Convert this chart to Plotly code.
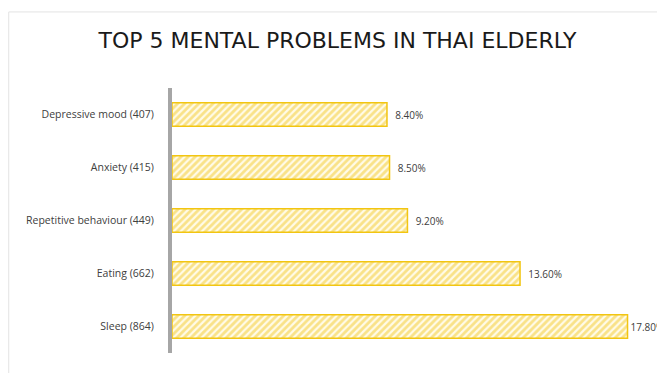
import plotly.graph_objects as go

categories = ["Depressive mood (407)", "Anxiety (415)", "Repetitive behaviour (449)", "Eating (662)", "Sleep (864)"]
values = [8.4, 8.5, 9.2, 13.6, 17.8]
value_labels = ["8.40%", "8.50%", "9.20%", "13.60%", "17.80%"]

fig = go.Figure()
fig.add_trace(go.Bar(
    y=categories, x=values, orientation="h",
    text=value_labels,
    texttemplate=["  %{text}"] * (len(values) - 1) + ["%{text}"],
    textposition="outside",
    textfont=dict(family="Open Sans, DejaVu Sans, sans-serif", size=10, color="#404040"),
    cliponaxis=False,
    width=0.44,
    marker=dict(
        color="#fff8d8",
        line=dict(color="#f2c511", width=1.5),
        pattern=dict(shape="/", fgcolor="#f4c928", bgcolor="#fffbe8", size=5, solidity=0.55),
    ),
))

fig.update_layout(
    width=665, height=373,
    paper_bgcolor="white", plot_bgcolor="white",
    margin=dict(l=164, r=25, t=80, b=28),
    showlegend=False,
    title=dict(text="TOP 5 MENTAL PROBLEMS IN THAI ELDERLY", xref="container", x=0.4955, xanchor="center",
               yref="container", y=0.914, yanchor="middle",
               font=dict(family="DejaVu Sans, sans-serif", size=22, color="#1a1a1a")),
    xaxis=dict(range=[0, 18.6], visible=False),
    yaxis=dict(autorange="reversed", showline=True, linecolor="#a6a6a6", linewidth=4,
               ticks="", showgrid=False, ticklabelstandoff=12,
               tickfont=dict(family="Open Sans, DejaVu Sans, sans-serif", size=10.5, color="#404040")),
    shapes=[dict(type="rect", xref="paper", yref="paper", x0=-0.343, x1=1.1, y0=-0.2, y1=1.287,
                 line=dict(color="#e3e3e3", width=1), fillcolor="rgba(0,0,0,0)", layer="below")],
)

fig.write_html("out.html")
